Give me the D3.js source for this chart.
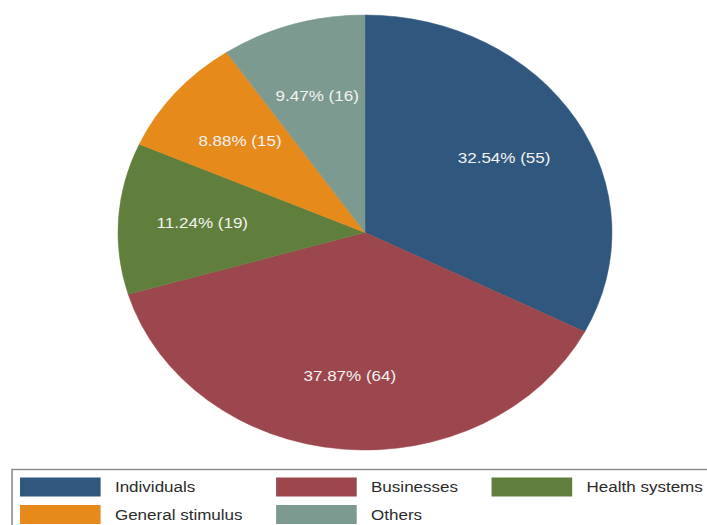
<!DOCTYPE html>
<html>
<head>
<meta charset="utf-8">
<script src="https://cdn.jsdelivr.net/npm/d3@7/dist/d3.min.js"></script>
<style>
  html, body { margin: 0; padding: 0; background: #fff; }
  svg { display: block; }
  text { font-family: "Liberation Sans", Arial, sans-serif; }
</style>
</head>
<body>
<div id="chart"></div>
<script>
// Stimulus measures by target group
const categories = ["Individuals", "Businesses", "Health systems", "General stimulus", "Others"];
const counts = [55, 64, 19, 15, 16];
const colors = ["#30587e", "#9c474e", "#617f3c", "#e68a1c", "#7d9a90"];

const W = 707, H = 525;
// the whole graphic is drawn a little wider than tall
const stretch = 1.1356;
const VW = W / stretch;

const svg = d3.select("#chart").append("svg")
  .attr("width", W).attr("height", H)
  .attr("viewBox", `0 0 ${VW} ${H}`)
  .attr("preserveAspectRatio", "none");

const cx = 321.4, cy = 232.5, r = 217.5;
const total = d3.sum(counts);

const pie = d3.pie().sort(null).value(d => d.v);
const arcs = pie(categories.map((c, i) => ({ c, v: counts[i], col: colors[i] })));

const arc = d3.arc().innerRadius(0).outerRadius(r);
const labelArc = d3.arc().innerRadius(r * 0.66).outerRadius(r * 0.66);

const g = svg.append("g").attr("transform", `translate(${cx},${cy})`);

g.selectAll("path").data(arcs).join("path")
  .attr("d", arc)
  .attr("fill", d => d.data.col)
  .attr("stroke", d => d.data.col)
  .attr("stroke-width", 0.5);

g.selectAll("text.lbl").data(arcs).join("text")
  .attr("class", "lbl")
  .attr("transform", d => `translate(${labelArc.centroid(d)})`)
  .attr("text-anchor", "middle")
  .attr("dy", "0.35em")
  .attr("font-size", 15)
  .attr("fill", "#f2f2f2")
  .text(d => `${(d.data.v / total * 100).toFixed(2)}% (${d.data.v})`);

// Legend: 3 columns, row-major
const lg = svg.append("g");
const boxX = 10.6, boxY = 469.5;
lg.append("rect")
  .attr("x", boxX).attr("y", boxY)
  .attr("width", VW + 20).attr("height", 80)
  .attr("fill", "#fff").attr("stroke", "#8a8a8a").attr("stroke-width", 1.4);

const nCols = 3;
const swW = 71, swH = 19, txtGap = 12.6, colGap = 29.5;
const rowY = [477.5, 505];

// measure labels to size each column
const tmp = svg.append("g").attr("font-size", 15);
const widths = categories.map(c => {
  const t = tmp.append("text").text(c);
  const w = t.node().getComputedTextLength();
  t.remove();
  return w;
});
tmp.remove();

const colX = [];
let x = 17.6;
for (let c = 0; c < nCols; c++) {
  colX.push(x);
  const maxW = d3.max(categories.map((_, i) => i).filter(i => i % nCols === c), i => widths[i]);
  x += swW + txtGap + maxW + colGap;
}

const items = lg.selectAll("g.item").data(categories).join("g")
  .attr("class", "item")
  .attr("transform", (d, i) => `translate(${colX[i % nCols]},${rowY[Math.floor(i / nCols)]})`);

items.append("rect")
  .attr("width", swW).attr("height", swH)
  .attr("fill", (d, i) => colors[i]);

items.append("text")
  .attr("x", swW + txtGap)
  .attr("y", swH / 2)
  .attr("dy", "0.35em")
  .attr("font-size", 15)
  .attr("fill", "#2b2b2b")
  .text(d => d);
</script>
</body>
</html>
